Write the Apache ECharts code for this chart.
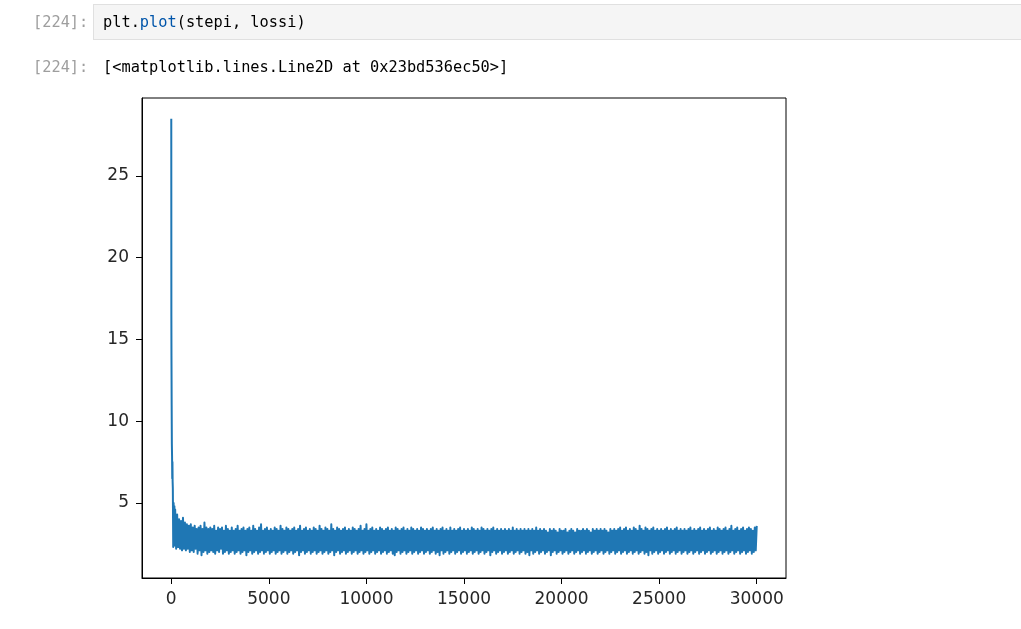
<!DOCTYPE html>
<html>
<head>
<meta charset="utf-8">
<script src="https://cdn.jsdelivr.net/npm/echarts@6/dist/echarts.min.js"></script>
<style>
  html, body { margin: 0; padding: 0; background: #fff; width: 1021px; height: 629px; overflow: hidden; }
  .mono { font-family: "DejaVu Sans Mono", "Liberation Mono", monospace; font-size: 15.3px; white-space: pre; position: absolute; line-height: 18px; }
  .prompt { color: #9e9e9e; }
  #cell { position: absolute; left: 93px; top: 4px; width: 940px; height: 36px; background: #f5f5f5; border: 1px solid #e0e0e0; box-sizing: border-box; }
  #chart { position: absolute; left: 0; top: 0; width: 1021px; height: 629px; }
</style>
</head>
<body>
<div id="chart"></div>
<div id="cell"></div>
<div class="mono prompt" style="left:33px; top:13px;">[224]:</div>
<div class="mono" style="left:103px; top:13px; color:#000;">plt.<span style="color:#0055aa">plot</span>(stepi, lossi)</div>
<div class="mono prompt" style="left:33px; top:58px;">[224]:</div>
<div class="mono" style="left:103px; top:58px; color:#000;">[&lt;matplotlib.lines.Line2D at 0x23bd536ec50&gt;]</div>
<script>
// ---- data ----
const xTickLabels = [0, 5000, 10000, 15000, 20000, 25000, 30000];
const yTickLabels = [5, 10, 15, 20, 25];

const stepi = [
  0, 5, 10, 15, 20, 25, 30, 40, 50, 60, 70, 80, 100, 120, 140, 160, 180, 200, 250, 300,
  350, 400, 450, 500, 550, 600, 650, 700, 750, 800, 850, 900, 950, 1000,
  1050, 1100, 1150, 1200, 1250, 1300, 1350, 1400, 1450, 1500, 1550, 1600, 1650, 1700, 1750, 1800, 1850, 1900, 1950, 2000,
  2050, 2100, 2150, 2200, 2250, 2300, 2350, 2400, 2450, 2500, 2550, 2600, 2650, 2700, 2750, 2800, 2850, 2900, 2950, 3000,
  3050, 3100, 3150, 3200, 3250, 3300, 3350, 3400, 3450, 3500, 3550, 3600, 3650, 3700, 3750, 3800, 3850, 3900, 3950, 4000,
  4050, 4100, 4150, 4200, 4250, 4300, 4350, 4400, 4450, 4500, 4550, 4600, 4650, 4700, 4750, 4800, 4850, 4900, 4950, 5000,
  5050, 5100, 5150, 5200, 5250, 5300, 5350, 5400, 5450, 5500, 5550, 5600, 5650, 5700, 5750, 5800, 5850, 5900, 5950, 6000,
  6050, 6100, 6150, 6200, 6250, 6300, 6350, 6400, 6450, 6500, 6550, 6600, 6650, 6700, 6750, 6800, 6850, 6900, 6950, 7000,
  7050, 7100, 7150, 7200, 7250, 7300, 7350, 7400, 7450, 7500, 7550, 7600, 7650, 7700, 7750, 7800, 7850, 7900, 7950, 8000,
  8050, 8100, 8150, 8200, 8250, 8300, 8350, 8400, 8450, 8500, 8550, 8600, 8650, 8700, 8750, 8800, 8850, 8900, 8950, 9000,
  9050, 9100, 9150, 9200, 9250, 9300, 9350, 9400, 9450, 9500, 9550, 9600, 9650, 9700, 9750, 9800, 9850, 9900, 9950, 10000,
  10050, 10100, 10150, 10200, 10250, 10300, 10350, 10400, 10450, 10500, 10550, 10600, 10650, 10700, 10750, 10800, 10850, 10900, 10950, 11000,
  11050, 11100, 11150, 11200, 11250, 11300, 11350, 11400, 11450, 11500, 11550, 11600, 11650, 11700, 11750, 11800, 11850, 11900, 11950, 12000,
  12050, 12100, 12150, 12200, 12250, 12300, 12350, 12400, 12450, 12500, 12550, 12600, 12650, 12700, 12750, 12800, 12850, 12900, 12950, 13000,
  13050, 13100, 13150, 13200, 13250, 13300, 13350, 13400, 13450, 13500, 13550, 13600, 13650, 13700, 13750, 13800, 13850, 13900, 13950, 14000,
  14050, 14100, 14150, 14200, 14250, 14300, 14350, 14400, 14450, 14500, 14550, 14600, 14650, 14700, 14750, 14800, 14850, 14900, 14950, 15000,
  15050, 15100, 15150, 15200, 15250, 15300, 15350, 15400, 15450, 15500, 15550, 15600, 15650, 15700, 15750, 15800, 15850, 15900, 15950, 16000,
  16050, 16100, 16150, 16200, 16250, 16300, 16350, 16400, 16450, 16500, 16550, 16600, 16650, 16700, 16750, 16800, 16850, 16900, 16950, 17000,
  17050, 17100, 17150, 17200, 17250, 17300, 17350, 17400, 17450, 17500, 17550, 17600, 17650, 17700, 17750, 17800, 17850, 17900, 17950, 18000,
  18050, 18100, 18150, 18200, 18250, 18300, 18350, 18400, 18450, 18500, 18550, 18600, 18650, 18700, 18750, 18800, 18850, 18900, 18950, 19000,
  19050, 19100, 19150, 19200, 19250, 19300, 19350, 19400, 19450, 19500, 19550, 19600, 19650, 19700, 19750, 19800, 19850, 19900, 19950, 20000,
  20050, 20100, 20150, 20200, 20250, 20300, 20350, 20400, 20450, 20500, 20550, 20600, 20650, 20700, 20750, 20800, 20850, 20900, 20950, 21000,
  21050, 21100, 21150, 21200, 21250, 21300, 21350, 21400, 21450, 21500, 21550, 21600, 21650, 21700, 21750, 21800, 21850, 21900, 21950, 22000,
  22050, 22100, 22150, 22200, 22250, 22300, 22350, 22400, 22450, 22500, 22550, 22600, 22650, 22700, 22750, 22800, 22850, 22900, 22950, 23000,
  23050, 23100, 23150, 23200, 23250, 23300, 23350, 23400, 23450, 23500, 23550, 23600, 23650, 23700, 23750, 23800, 23850, 23900, 23950, 24000,
  24050, 24100, 24150, 24200, 24250, 24300, 24350, 24400, 24450, 24500, 24550, 24600, 24650, 24700, 24750, 24800, 24850, 24900, 24950, 25000,
  25050, 25100, 25150, 25200, 25250, 25300, 25350, 25400, 25450, 25500, 25550, 25600, 25650, 25700, 25750, 25800, 25850, 25900, 25950, 26000,
  26050, 26100, 26150, 26200, 26250, 26300, 26350, 26400, 26450, 26500, 26550, 26600, 26650, 26700, 26750, 26800, 26850, 26900, 26950, 27000,
  27050, 27100, 27150, 27200, 27250, 27300, 27350, 27400, 27450, 27500, 27550, 27600, 27650, 27700, 27750, 27800, 27850, 27900, 27950, 28000,
  28050, 28100, 28150, 28200, 28250, 28300, 28350, 28400, 28450, 28500, 28550, 28600, 28650, 28700, 28750, 28800, 28850, 28900, 28950, 29000,
  29050, 29100, 29150, 29200, 29250, 29300, 29350, 29400, 29450, 29500, 29550, 29600, 29650, 29700, 29750, 29800, 29850, 29900, 29950, 30000
];

const lossi = [
  28.5, 16.4, 14.0, 12.5, 11.0, 9.8, 8.6, 7.9, 6.5, 7.5, 6.3, 5.9, 2.3, 5.0, 2.6, 4.8, 2.4, 4.6, 2.2, 4.3,
  2.3, 4.0, 2.2, 3.9, 2.1, 4.1, 2.2, 3.8, 2.1, 3.7, 2.2, 3.6, 2.0, 3.7,
  2.1, 3.5, 2.0, 3.6, 2.2, 3.4, 1.9, 3.5, 2.1, 3.6, 1.8, 3.4, 2.0, 3.8, 2.1, 3.5, 1.9, 3.4, 2.0, 3.5,
  2.1, 3.4, 2.0, 3.6, 1.9, 3.3, 2.1, 3.5, 2.0, 3.4, 2.2, 3.5, 1.9, 3.3, 2.0, 3.6, 2.1, 3.4, 1.9, 3.3,
  2.0, 3.5, 2.1, 3.3, 1.9, 3.4, 2.0, 3.6, 2.1, 3.3, 1.9, 3.4, 2.0, 3.5, 2.1, 3.3, 1.8, 3.4, 2.0, 3.5,
  2.1, 3.3, 1.9, 3.6, 2.0, 3.4, 2.1, 3.3, 1.9, 3.5, 2.0, 3.7, 2.1, 3.3, 1.9, 3.4, 2.0, 3.5, 2.1, 3.3,
  1.9, 3.4, 2.0, 3.3, 2.1, 3.5, 1.9, 3.4, 2.0, 3.3, 2.1, 3.6, 1.9, 3.4, 2.0, 3.3, 2.1, 3.5, 1.9, 3.4,
  2.0, 3.3, 2.1, 3.4, 1.9, 3.5, 2.0, 3.3, 2.1, 3.4, 1.8, 3.6, 2.0, 3.3, 2.1, 3.4, 1.9, 3.5, 2.0, 3.3,
  2.1, 3.4, 1.9, 3.3, 2.0, 3.5, 2.1, 3.4, 1.9, 3.3, 2.0, 3.6, 2.1, 3.4, 1.9, 3.3, 2.0, 3.5, 2.1, 3.4,
  1.9, 3.3, 2.0, 3.7, 2.1, 3.4, 1.8, 3.3, 2.0, 3.5, 2.1, 3.4, 1.9, 3.3, 2.0, 3.4, 2.1, 3.5, 1.9, 3.3,
  2.0, 3.4, 2.1, 3.3, 1.9, 3.5, 2.0, 3.4, 2.1, 3.3, 1.9, 3.4, 2.0, 3.6, 2.1, 3.3, 1.9, 3.4, 2.0, 3.7,
  2.1, 3.3, 1.9, 3.4, 2.0, 3.5, 2.1, 3.3, 1.9, 3.4, 2.0, 3.3, 2.1, 3.5, 1.9, 3.4, 2.0, 3.3, 2.1, 3.4,
  1.9, 3.5, 2.0, 3.3, 2.1, 3.4, 1.9, 3.3, 1.8, 3.5, 2.0, 3.4, 2.1, 3.3, 1.9, 3.4, 2.0, 3.5, 2.1, 3.3,
  1.9, 3.4, 2.0, 3.3, 2.1, 3.5, 1.9, 3.4, 2.0, 3.3, 2.1, 3.4, 1.9, 3.3, 2.0, 3.5, 2.1, 3.4, 1.9, 3.3,
  2.0, 3.4, 2.1, 3.3, 1.9, 3.4, 2.0, 3.5, 2.1, 3.3, 1.9, 3.4, 2.0, 3.3, 1.8, 3.4, 2.1, 3.5, 1.9, 3.3,
  2.0, 3.4, 2.1, 3.3, 1.9, 3.5, 2.0, 3.3, 2.1, 3.4, 1.9, 3.3, 2.0, 3.4, 2.1, 3.5, 1.9, 3.3, 2.0, 3.4,
  2.1, 3.3, 1.9, 3.4, 2.0, 3.3, 2.1, 3.5, 1.9, 3.4, 2.0, 3.3, 2.1, 3.4, 1.9, 3.3, 2.0, 3.5, 2.1, 3.4,
  1.9, 3.3, 2.0, 3.4, 2.1, 3.3, 1.8, 3.4, 2.0, 3.5, 2.1, 3.3, 1.9, 3.4, 2.0, 3.3, 2.1, 3.4, 1.9, 3.3,
  2.0, 3.4, 2.1, 3.3, 1.9, 3.4, 2.0, 3.3, 2.1, 3.5, 1.9, 3.3, 2.0, 3.4, 2.1, 3.3, 1.9, 3.4, 2.0, 3.3,
  2.1, 3.4, 1.9, 3.3, 2.0, 3.4, 1.8, 3.3, 2.1, 3.4, 1.9, 3.3, 2.0, 3.5, 2.1, 3.3, 1.9, 3.4, 2.0, 3.3,
  2.1, 3.4, 1.9, 3.3, 2.0, 3.2, 2.1, 3.4, 1.8, 3.3, 2.0, 3.4, 2.1, 3.3, 1.9, 3.2, 2.0, 3.4, 2.1, 3.3,
  1.9, 3.3, 2.0, 3.4, 2.1, 3.2, 1.9, 3.3, 2.0, 3.4, 2.1, 3.3, 1.9, 3.2, 2.0, 3.4, 2.1, 3.3, 1.9, 3.3,
  2.0, 3.4, 2.1, 3.3, 1.9, 3.4, 2.0, 3.3, 2.1, 3.2, 1.9, 3.4, 2.0, 3.3, 2.1, 3.4, 1.9, 3.3, 2.0, 3.4,
  2.1, 3.3, 1.9, 3.4, 2.0, 3.3, 2.1, 3.2, 1.9, 3.4, 2.0, 3.3, 2.1, 3.4, 1.9, 3.3, 2.0, 3.4, 2.1, 3.5,
  1.9, 3.3, 2.0, 3.4, 2.1, 3.5, 1.9, 3.3, 2.0, 3.4, 2.1, 3.3, 1.9, 3.5, 2.0, 3.4, 2.1, 3.3, 1.9, 3.6,
  2.0, 3.4, 2.1, 3.3, 1.9, 3.5, 2.0, 3.4, 1.8, 3.3, 2.1, 3.4, 1.9, 3.5, 2.0, 3.3, 2.1, 3.4, 1.9, 3.3,
  2.0, 3.4, 2.1, 3.3, 1.9, 3.4, 2.0, 3.5, 2.1, 3.3, 1.9, 3.4, 2.0, 3.3, 2.1, 3.4, 1.9, 3.5, 2.0, 3.3,
  2.1, 3.4, 1.9, 3.3, 2.0, 3.4, 2.1, 3.3, 1.9, 3.4, 2.0, 3.5, 2.1, 3.3, 1.9, 3.4, 2.0, 3.3, 2.1, 3.4,
  1.9, 3.5, 2.0, 3.3, 2.1, 3.4, 1.9, 3.3, 2.0, 3.4, 2.1, 3.5, 1.9, 3.3, 2.0, 3.4, 2.1, 3.3, 1.9, 3.5,
  2.0, 3.4, 2.1, 3.3, 1.9, 3.4, 2.0, 3.5, 2.1, 3.3, 1.9, 3.4, 2.0, 3.6, 2.1, 3.3, 1.9, 3.4, 2.0, 3.5,
  2.1, 3.3, 1.9, 3.4, 2.0, 3.5, 2.1, 3.3, 1.9, 3.4, 2.0, 3.5, 2.1, 3.4, 1.9, 3.3, 2.0, 3.5, 2.1, 3.6
];

const n = Math.min(stepi.length, lossi.length);
const seriesData = [];
for (let i = 0; i < n; i++) seriesData.push([stepi[i], lossi[i]]);

const chart = echarts.init(document.getElementById('chart'), null, { renderer: 'canvas' });
const axisColor = '#000';
const labelColor = '#262626';
const labelFont = 'DejaVu Sans';

chart.setOption({
  animation: false,
  grid: {
    left: 142, top: 98, width: 644, height: 480,
    show: true, borderColor: axisColor, borderWidth: 1, backgroundColor: '#fff'
  },
  xAxis: {
    type: 'value',
    min: -1500, max: 31500,
    splitLine: { show: false },
    axisLine: { show: true, onZero: false, lineStyle: { color: axisColor, width: 1 } },
    axisTick: { show: true, inside: false, length: 6, lineStyle: { color: axisColor, width: 1 }, customValues: xTickLabels },
    axisLabel: { show: true, customValues: xTickLabels, formatter: v => String(v), fontSize: 17, fontFamily: labelFont, color: labelColor, margin: 13 }
  },
  yAxis: {
    type: 'value',
    min: 0.41, max: 29.77,
    splitLine: { show: false },
    axisLine: { show: true, onZero: false, lineStyle: { color: axisColor, width: 1 } },
    axisTick: { show: true, inside: false, length: 6, lineStyle: { color: axisColor, width: 1 }, customValues: yTickLabels },
    axisLabel: { show: true, customValues: yTickLabels, formatter: v => String(v), fontSize: 17, fontFamily: labelFont, color: labelColor, margin: 13 }
  },
  series: [{
    type: 'line',
    data: seriesData,
    showSymbol: false,
    symbol: 'none',
    sampling: null,
    lineStyle: { color: '#1f77b4', width: 2, join: 'round' },
    itemStyle: { color: '#1f77b4' },
    silent: true
  }]
});
</script>
</body>
</html>
